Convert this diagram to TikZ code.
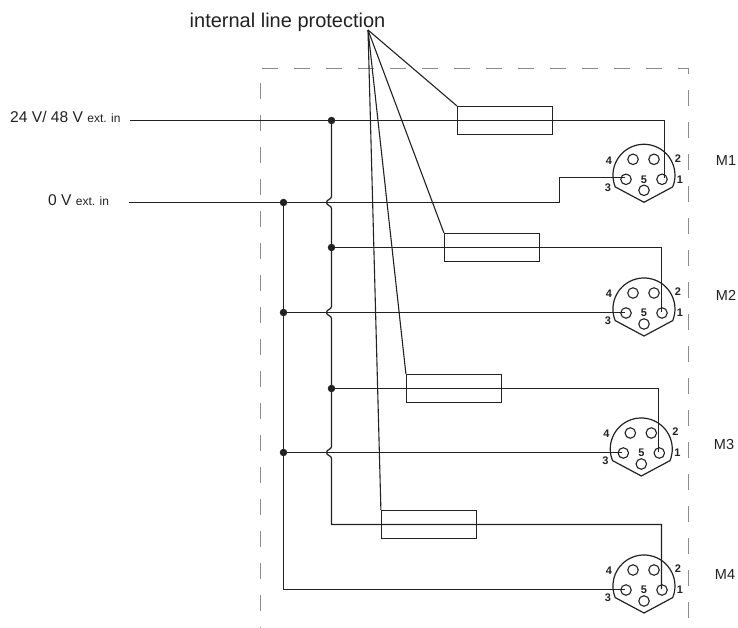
\documentclass[tikz,border=0pt]{standalone}
\usepackage{fontspec}
\setmainfont{Liberation Sans}
\usetikzlibrary{calc}
\definecolor{ink}{HTML}{222222}
\definecolor{framegrey}{HTML}{8C8C8C}
\tikzset{
  wire/.style={draw=ink,line width=1.25pt},
  leader/.style={draw=ink,line width=1.1pt},
  frameline/.style={draw=framegrey,line width=1.1pt,dash pattern=on 16pt off 16pt,dash phase=15pt},
  fuse/.style={draw=ink,line width=1.2pt,minimum width=95pt,minimum height=28pt,inner sep=0pt,rectangle},
  dot/.style={circle,fill=ink,inner sep=0pt,minimum size=7.5pt},
  pin/.style={circle,draw=ink,line width=1.1pt,inner sep=0pt,minimum size=10.5pt},
  pinlabel/.style={inner sep=0pt,font=\fontsize{11}{12}\selectfont\bfseries,text=ink},
  mlabel/.style={inner sep=0pt,font=\fontsize{14.5}{15}\selectfont,text=ink},
  inlabel/.style={inner sep=0pt,anchor=base west,text=ink},
}
\newcommand{\smalltxt}{\fontsize{12}{13}\selectfont}
\newcommand{\midtxt}{\fontsize{15.6}{16}\selectfont}
% connector symbol: name, centre x, centre y
\newcommand{\mconn}[3]{%
  \coordinate (#1) at (#2,#3);
  \draw[draw=ink,line width=1.2pt] ($(#1)+(28.7,11.6)$) arc[start angle=-22,end angle=202,radius=31pt] -- ($(#1)+(0,27)$) -- cycle;
  \node[pin] (#1p1) at ($(#1)+(18,4)$) {};
  \node[pin] (#1p2) at ($(#1)+(10,-16)$) {};
  \node[pin] (#1p3) at ($(#1)+(-18,4)$) {};
  \node[pin] (#1p4) at ($(#1)+(-11,-16)$) {};
  \node[pin] (#1p5) at ($(#1)+(0,15)$) {};
  \node[pinlabel] (#1l1) at ($(#1)+(36,4)$) {1};
  \node[pinlabel] (#1l2) at ($(#1)+(34,-17)$) {2};
  \node[pinlabel] (#1l3) at ($(#1)+(-36,12)$) {3};
  \node[pinlabel] (#1l4) at ($(#1)+(-35,-15)$) {4};
  \node[pinlabel] (#1l5) at ($(#1)+(0,4)$) {5};
}
% hop of the bus over a crossing line
\newcommand{\hop}[1]{-- ($(#1)+(0,-6)$) .. controls ($(#1)+(0,-3)$) and ($(#1)+(-5,-3)$) .. ($(#1)+(-5,0)$) .. controls ($(#1)+(-5,3)$) and ($(#1)+(0,3)$) .. ($(#1)+(0,6)$)}
\begin{document}
\begin{tikzpicture}[x=1pt,y=-1pt]
\useasboundingbox (0,0) rectangle (738,628);
% frame
\coordinate (fa) at (260.5,628);
\coordinate (fb) at (260.5,68.5);
\coordinate (fc) at (688.5,68.5);
\coordinate (fd) at (688.5,618);
\draw[frameline] (fa) -- (fb) -- (fc) -- (fd);
% labels
\node[inner sep=0pt,anchor=base west,text=ink,font=\fontsize{20}{21}\selectfont] (title) at (189.5,28) {internal line protection};
\coordinate (apex) at (368,30);
\node[inlabel] (v24) at (10,123) {\midtxt 24 V/ 48 V \smalltxt ext. in};
\node[inlabel] (v0) at (48,206) {\midtxt 0 V \smalltxt ext. in};
\node[mlabel] (M1) at (726,161) {M1};
\node[mlabel] (M2) at (726,295.5) {M2};
\node[mlabel] (M3) at (724,444.5) {M3};
\node[mlabel] (M4) at (725,575) {M4};
% fuses
\node[fuse] (f1) at (505,120.5) {};
\node[fuse] (f2) at (492,247.5) {};
\node[fuse] (f3) at (454,388.5) {};
\node[fuse] (f4) at (429,524.5) {};
% connectors
\mconn{ma}{644}{175.3}
\mconn{mb}{644}{309}
\mconn{mc}{641.3}{449}
\mconn{md}{644}{586}
% named wire points
\coordinate (in24) at (130,120.5);
\coordinate (in0) at (129,202.5);
\coordinate (b1) at (331.5,120.5);
\coordinate (b2) at (331.5,247.5);
\coordinate (b3) at (331.5,388.5);
\coordinate (b4) at (331.5,524.5);
\coordinate (h1) at (331.5,202.5);
\coordinate (h2) at (331.5,312.5);
\coordinate (h3) at (331.5,452.5);
\coordinate (g1) at (283.5,202.5);
\coordinate (g2) at (283.5,312.5);
\coordinate (g3) at (283.5,452.5);
\coordinate (g4) at (283.5,589.5);
\coordinate (stepa) at (559.5,202.5);
\coordinate (stepb) at (559.5,177.5);
\coordinate (ma3) at (625,177.5);
\coordinate (mb3) at (625,312.5);
\coordinate (mc3) at (622,452.5);
\coordinate (md3) at (625,589.5);
\coordinate (ma1) at (664.5,120.5);
\coordinate (mb1) at (661.5,247.5);
\coordinate (mc1) at (658.5,388.5);
\coordinate (md1) at (661.5,524.5);
\coordinate (ma1e) at (664.5,178);
\coordinate (mb1e) at (661.5,312);
\coordinate (mc1e) at (658.5,452);
\coordinate (md1e) at (661.5,589);
% wiring
\draw[wire] (in24) -- (ma1) -- (ma1e);
\draw[wire] (in0) -- (stepa) -- (stepb) -- (ma3);
\draw[wire] (b1) \hop{h1} -- (b2) \hop{h2} -- (b3) \hop{h3} -- (b4) -- (md1) -- (md1e);
\draw[wire] (b2) -- (mb1) -- (mb1e);
\draw[wire] (b3) -- (mc1) -- (mc1e);
\draw[wire] (g1) -- (g4) -- (md3);
\draw[wire] (g2) -- (mb3);
\draw[wire] (g3) -- (mc3);
\node[dot] (db1) at (b1) {};
\node[dot] (db2) at (b2) {};
\node[dot] (db3) at (b3) {};
\node[dot] (dg1) at (g1) {};
\node[dot] (dg2) at (g2) {};
\node[dot] (dg3) at (g3) {};
% leaders
\draw[leader] (apex) -- (f1.north west);
\draw[leader] (apex) -- (f2.north west);
\draw[leader] (apex) -- (f3.north west);
\draw[leader] (apex) -- (f4.north west);
\end{tikzpicture}
\end{document}
